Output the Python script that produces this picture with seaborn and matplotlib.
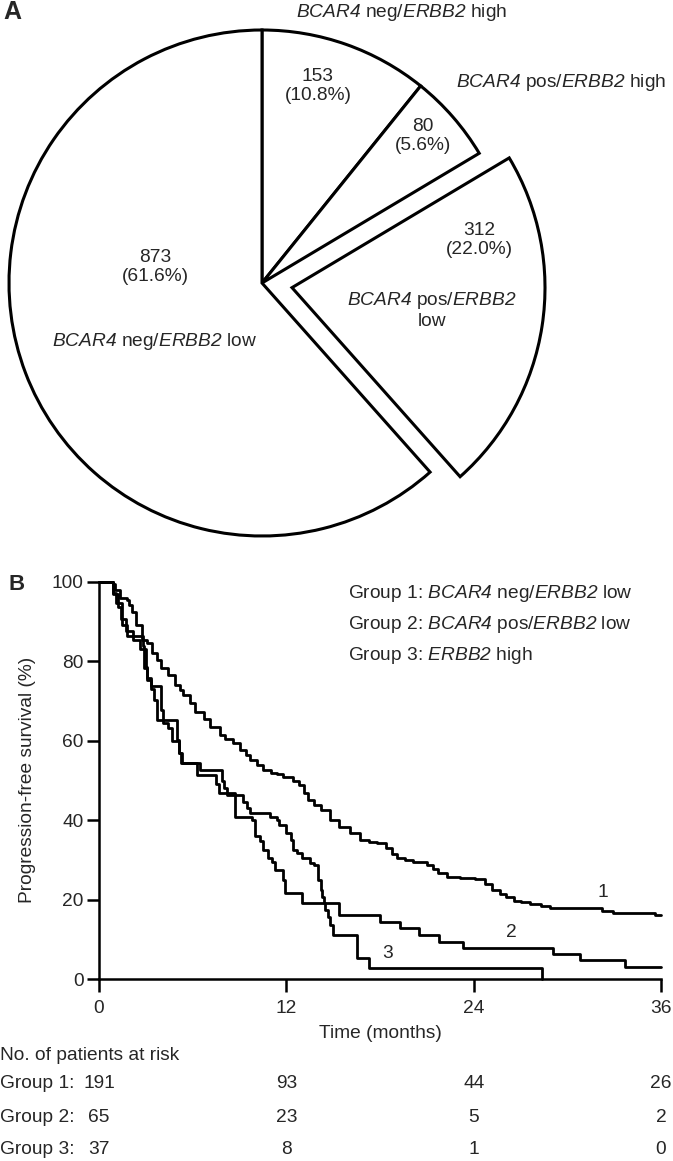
import matplotlib
matplotlib.use('Agg')
import matplotlib.pyplot as plt
import matplotlib.transforms as mtransforms
import seaborn as sns

# ---- panel A: pie slices, clockwise from 12 o'clock ----
slice_counts = [153, 80, 312, 873]
slice_pcts = ['10.8%', '5.6%', '22.0%', '61.6%']
slice_explode = [0, 0, 0.12, 0]
# gene names in italics (sans-serif italic via mathtext \mathsf, see rcParams below)
slice_names = [r'$\mathsf{BCAR4}$ neg/$\mathsf{ERBB2}$ high',
               r'$\mathsf{BCAR4}$ pos/$\mathsf{ERBB2}$ high',
               r'$\mathsf{BCAR4}$ pos/$\mathsf{ERBB2}$' + '\nlow',
               r'$\mathsf{BCAR4}$ neg/$\mathsf{ERBB2}$ low']

# ---- panel B: Kaplan-Meier curves (months, % PFS) ----
g1_time = [0, 0.9, 1.0, 1.35, 1.8, 1.9, 2.1, 2.4, 2.75, 3.1, 3.4, 3.7, 4.0, 4.4,
           4.9, 5.2, 5.4, 5.8, 6.15, 6.7, 7.1, 7.75, 8.1, 8.6, 9.0, 9.4, 9.7,
           10.1, 10.5, 11.0, 11.4, 11.8, 12.4, 12.8, 13.1, 13.4, 13.8, 14.2,
           14.8, 15.4, 16.1, 16.7, 17.3, 17.8, 18.4, 18.8, 19.1, 19.6, 20.1,
           21.0, 21.4, 21.7, 22.3, 23.1, 24.1, 24.7, 25.2, 25.7, 26.1, 26.6,
           27.0, 27.6, 28.3, 28.9, 32.2, 32.9, 35.6, 36.0]
g1_pfs = [100, 99.5, 98, 96, 95.5, 94.2, 92.4, 89.2, 85.4, 84.6, 82.1, 80.4, 78.3,
          76.6, 74.0, 72.8, 71.5, 69.6, 67.3, 65.4, 63.5, 61.5, 60.5, 59.4, 57.7,
          56.4, 55.2, 53.9, 52.6, 52.0, 51.6, 50.9, 50.0, 48.8, 46.9, 45.0, 43.8,
          42.6, 40.0, 38.3, 36.8, 35.0, 34.6, 34.2, 33.0, 31.6, 30.5, 30.0, 29.5,
          28.7, 27.6, 26.7, 25.7, 25.4, 25.2, 24.0, 22.4, 21.5, 20.7, 19.7, 19.3,
          18.9, 18.4, 17.9, 17.1, 16.6, 16.0, 16.0]

g2_time = [0, 0.9, 1.2, 1.4, 1.7, 2.2, 2.6, 3.0, 3.1, 3.3, 4.0, 4.1, 4.4, 4.7,
           5.1, 5.3, 6.3, 7.5, 7.7, 8.7, 9.8, 10.0, 10.3, 10.5, 10.8, 11.1, 11.3,
           11.8, 11.9, 13.0, 15.4, 18.0, 19.3, 20.5, 21.8, 23.3, 29.1, 30.8,
           33.7, 36.0]
g2_pfs = [100, 96.9, 93.8, 90.8, 87.7, 85.4, 83.1, 78.5, 75.4, 73.8, 67.7, 64.6,
          63.1, 60.0, 56.9, 54.4, 51.4, 49.2, 46.8, 40.8, 40.0, 36.0, 34.7, 32.5,
          30.5, 29.5, 27.5, 25.0, 21.7, 19.1, 16.1, 14.4, 12.8, 11.1, 9.4, 7.8,
          6.3, 4.8, 3.1, 3.1]

g3_time = [0, 0.9, 1.1, 1.5, 1.8, 2.8, 2.9, 3.1, 3.3, 3.5, 3.7, 5.0, 5.15, 5.25,
           6.5, 7.9, 8.0, 8.2, 9.2, 9.5, 9.7, 10.95, 11.4, 11.5, 12.0, 12.3, 12.4,
           12.7, 13.0, 13.5, 13.8, 14.0, 14.2, 14.3, 14.4, 14.5, 14.7, 14.8, 15.0,
           16.5, 17.3, 28.4]
g3_pfs = [100, 97.3, 94.6, 89.2, 86.5, 83.8, 78.4, 75.7, 73.0, 70.3, 65.2, 60.2,
          56.9, 54.4, 52.6, 50.0, 48.0, 46.3, 44.5, 43.0, 41.8, 40.8, 40.0, 38.8,
          36.8, 35.0, 32.5, 31.7, 30.5, 29.2, 28.7, 24.9, 22.4, 20.7, 19.1, 17.4,
          15.6, 13.6, 11.1, 5.4, 2.7, 0]

group_names = [r'Group 1: $\mathsf{BCAR4}$ neg/$\mathsf{ERBB2}$ low',
               r'Group 2: $\mathsf{BCAR4}$ pos/$\mathsf{ERBB2}$ low',
               r'Group 3: $\mathsf{ERBB2}$ high']
risk_times = [0, 12, 24, 36]
risk_g1 = [191, 93, 44, 26]
risk_g2 = [65, 23, 5, 2]
risk_g3 = [37, 8, 1, 0]

sns.set_theme(style='ticks')
plt.rcParams['font.family'] = ['Liberation Sans', 'DejaVu Sans']
plt.rcParams['mathtext.fontset'] = 'custom'
plt.rcParams['mathtext.rm'] = 'Liberation Sans'
plt.rcParams['mathtext.it'] = 'Liberation Sans:italic'
plt.rcParams['mathtext.sf'] = 'Liberation Sans:italic'
plt.rcParams['mathtext.bf'] = 'Liberation Sans:bold'

W, H = 673, 1161
FS = 13.8
fig = plt.figure(figsize=(W / 100, H / 100), dpi=100)


def fx(px):
    return px / W


def fy(py):
    return 1 - py / H


# ---------------- A: pie ----------------
R, cx, cy, top_h = 253, 262, 283, 560
axA = fig.add_axes([0, fy(top_h), 1, top_h / H])
axA.pie(slice_counts, explode=slice_explode, startangle=90, counterclock=False,
        colors=['white'] * 4,
        wedgeprops=dict(edgecolor='black', linewidth=2.2, clip_on=False))
axA.set_aspect('auto')
axA.set_xlim(-cx / R, (W - cx) / R)
axA.set_ylim(-(top_h - cy) / R, cy / R)
axA.axis('off')

num_pos = [(0.221, 0.779), (0.636, 0.581), (0.858, 0.170), (-0.423, 0.063)]
for (x, y), c, p in zip(num_pos, slice_counts, slice_pcts):
    axA.text(x, y, f'{c}\n({p})', ha='center', va='center', fontsize=FS,
             linespacing=1.1)
name_pos = [(0.553, 1.071), (1.182, 0.794), (0.672, -0.107), (-0.423, -0.233)]
for (x, y), nm in zip(name_pos, slice_names):
    axA.text(x, y, nm, ha='center', va='center', fontsize=FS, linespacing=1.1)

fig.text(fx(12), fy(12), 'A', ha='center', va='center', fontsize=18,
         fontweight='bold')

# ---------------- B: Kaplan-Meier ----------------
axB = fig.add_axes([fx(99), fy(979), 562 / W, 397 / H])
for t, s in [(g1_time, g1_pfs), (g2_time, g2_pfs), (g3_time, g3_pfs)]:
    sns.lineplot(x=t, y=s, estimator=None, drawstyle='steps-post', color='black',
                 linewidth=2.0, ax=axB, clip_on=False)

axB.set_xlim(0, 36)
axB.set_ylim(0, 100)
axB.set_xticks(risk_times)
axB.set_yticks(range(0, 101, 20))
sns.despine(ax=axB)
for side in ['left', 'bottom']:
    axB.spines[side].set_linewidth(1.8)
    axB.spines[side].set_color('black')
axB.tick_params(axis='x', length=9, width=1.8, pad=6, labelsize=FS, color='black')
axB.tick_params(axis='y', length=9, width=1.8, pad=2, labelsize=FS, color='black')
axB.set_xlabel('')
axB.set_ylabel('')

axB.text(32.3, 21.7, '1', ha='center', va='center', fontsize=FS)
axB.text(26.4, 11.6, '2', ha='center', va='center', fontsize=FS)
axB.text(18.5, 6.3, '3', ha='center', va='center', fontsize=FS)

fig.text(fx(27), fy(780), 'Progression-free survival (%)', rotation=90,
         ha='center', va='center', fontsize=FS)
fig.text(fx(380), fy(1034), 'Time (months)', ha='center', va='center', fontsize=FS)

for i, nm in enumerate(group_names):
    fig.text(fx(348), fy(594 + 30.5 * i), nm, ha='left', va='center', fontsize=FS)

fig.text(fx(16.5), fy(584), 'B', ha='center', va='center', fontsize=16,
         fontweight='bold')

# at-risk table
blend = mtransforms.blended_transform_factory(axB.transData, fig.transFigure)
fig.text(0, fy(1055), 'No. of patients at risk', ha='left', va='center', fontsize=FS)
for row, (yy, counts) in enumerate(zip([1084, 1117, 1149], [risk_g1, risk_g2, risk_g3])):
    fig.text(0, fy(yy), f'Group {row + 1}:', ha='left', va='center', fontsize=FS)
    for t, n in zip(risk_times, counts):
        axB.text(t, fy(yy), str(n), transform=blend, ha='center', va='center',
                 fontsize=FS)

fig.savefig('out.png', dpi=100)
